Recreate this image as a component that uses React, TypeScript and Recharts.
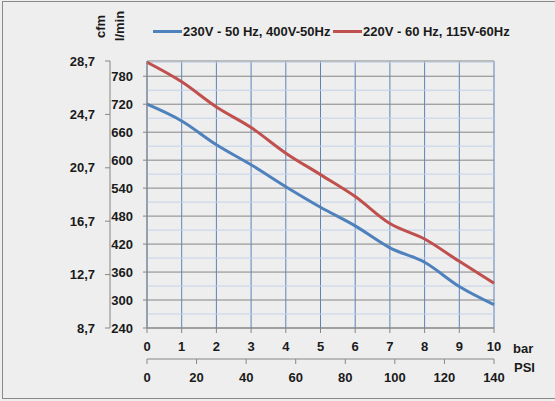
import {
  LineChart,
  Line,
  XAxis,
  YAxis,
  CartesianGrid,
  ReferenceLine,
  Legend,
  Label,
} from "recharts";

const barTicks = [0, 1, 2, 3, 4, 5, 6, 7, 8, 9, 10];
const psiTicks = [0, 20, 40, 60, 80, 100, 120, 140];
const lminTicks = [240, 300, 360, 420, 480, 540, 600, 660, 720, 780];
const lminMinor = [270, 330, 390, 450, 510, 570, 630, 690, 750, 810];
const cfmTicks = [8.7, 12.7, 16.7, 20.7, 24.7, 28.7];

// l/min at each bar step
const flow50Hz = [720, 684, 633, 590, 543, 499, 459, 412, 381, 329, 290];
const flow60Hz = [810, 768, 714, 670, 615, 569, 522, 464, 431, 383, 336];

const seriesOrder = ["hz50", "hz60"];

const data = barTicks.map((bar, i) => ({
  bar,
  hz50: flow50Hz[i],
  hz60: flow60Hz[i],
}));

const axisGray = "#868686";
const textColor = "#1a1a1a";
const tickStyle = { fill: textColor, fontSize: 13, fontWeight: 700 };

function LegendContent({ payload }: any) {
  const items = [...(payload || [])].sort(
    (a: any, b: any) => seriesOrder.indexOf(a.dataKey) - seriesOrder.indexOf(b.dataKey)
  );
  return (
    <div style={{ display: "flex", alignItems: "center", height: 20 }}>
      {items.map((p: any, i: number) => (
        <div
          key={`leg-${i}`}
          style={{ display: "flex", alignItems: "center", width: i === 0 ? 180 : undefined }}
        >
          <span
            style={{ display: "inline-block", width: 29, height: 3, background: p.color, marginRight: 1 }}
          />
          <span style={{ fontSize: 13, fontWeight: 700, color: textColor, whiteSpace: "nowrap" }}>
            {p.value}
          </span>
        </div>
      ))}
    </div>
  );
}

const rotatedTitle = (text: string, dx: number, dy: number) => (props: any) => {
  const vb = props.viewBox || { x: 0, y: 0 };
  const cx = vb.x + dx;
  const cy = vb.y + dy;
  return (
    <text
      x={cx}
      y={cy}
      transform={`rotate(-90, ${cx}, ${cy})`}
      textAnchor="middle"
      dominantBaseline="central"
      fill={textColor}
      fontSize={13}
      fontWeight={700}
    >
      {text}
    </text>
  );
};

const sideTitle = (text: string, dx: number, dy: number) => (props: any) => {
  const vb = props.viewBox || { x: 0, y: 0, width: 0 };
  return (
    <text
      x={vb.x + vb.width + dx}
      y={vb.y + dy}
      dominantBaseline="central"
      fill={textColor}
      fontSize={13}
      fontWeight={700}
    >
      {text}
    </text>
  );
};

export default function App() {
  return (
    <div
      style={{
        position: "relative",
        width: 555,
        height: 401,
        overflow: "hidden",
        background: "#eeeeee",
        fontFamily: "'Liberation Sans', Arial, sans-serif",
      }}
    >
      <style>{"body{margin:0}"}</style>
      <div
        style={{
          position: "absolute",
          left: 2,
          top: 1,
          width: 560,
          height: 396,
          border: "1px solid #8a8a8a",
        }}
      />
      <LineChart width={555} height={401} data={data} margin={{ top: 41, right: 61, left: 55, bottom: 12 }}>
        <CartesianGrid horizontal={false} stroke="#5b83ba" strokeWidth={1} />
        <CartesianGrid vertical={false} stroke={axisGray} strokeWidth={1} />
        {lminMinor.map((v) => (
          <ReferenceLine key={`minor-${v}`} y={v} stroke="#c3d3e8" strokeWidth={1} />
        ))}
        <XAxis
          dataKey="bar"
          type="number"
          domain={[0, 10]}
          ticks={barTicks}
          height={31}
          stroke={axisGray}
          tickSize={5}
          tickMargin={9}
          tick={tickStyle}
        >
          <Label content={sideTitle("bar", 19, 20)} />
        </XAxis>
        <XAxis
          xAxisId="psi"
          dataKey="bar"
          type="number"
          domain={[0, 140]}
          allowDataOverflow
          ticks={psiTicks}
          interval={0}
          height={30}
          stroke={axisGray}
          tickSize={5}
          tickMargin={9}
          tick={tickStyle}
        >
          <Label content={sideTitle("PSI", 20, 8)} />
        </XAxis>
        <YAxis
          type="number"
          domain={[240, 812.7]}
          allowDataOverflow
          ticks={lminTicks}
          interval={0}
          width={37}
          stroke={axisGray}
          tickSize={4}
          tickMargin={10}
          tick={tickStyle}
        >
          <Label content={rotatedTitle("l/min", 9.5, -35)} />
        </YAxis>
        <YAxis
          yAxisId="cfm"
          type="number"
          domain={[8.7, 28.7]}
          allowDataOverflow
          ticks={cfmTicks}
          interval={0}
          width={55}
          stroke={axisGray}
          tickSize={5}
          tickMargin={10}
          tick={tickStyle}
          tickFormatter={(v: number) => v.toFixed(1).replace(".", ",")}
        >
          <Label content={rotatedTitle("cfm", 45.5, -34.5)} />
        </YAxis>
        <Legend
          verticalAlign="top"
          align="left"
          content={<LegendContent />}
          wrapperStyle={{ top: 21, left: 153, width: "auto" }}
        />
        <Line
          type="monotone"
          dataKey="hz50"
          name="230V - 50 Hz, 400V-50Hz"
          stroke="#4f81bd"
          strokeWidth={3}
          dot={false}
          isAnimationActive={false}
        />
        <Line
          type="monotone"
          dataKey="hz60"
          name="220V - 60 Hz, 115V-60Hz"
          stroke="#c0504d"
          strokeWidth={3}
          dot={false}
          isAnimationActive={false}
        />
      </LineChart>
    </div>
  );
}
